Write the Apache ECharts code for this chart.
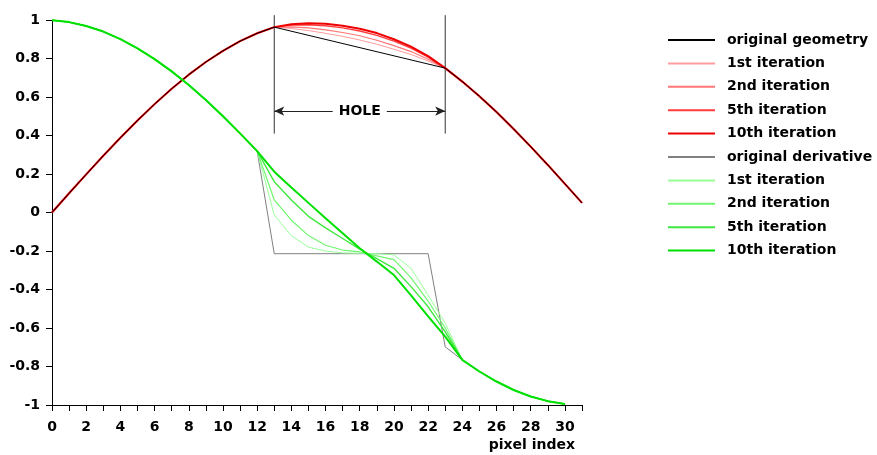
<!DOCTYPE html>
<html>
<head>
<meta charset="utf-8">
<script src="https://cdn.jsdelivr.net/npm/echarts@6/dist/echarts.min.js"></script>
<style>
html,body{margin:0;padding:0;background:#fff;}
#chart{width:877px;height:455px;}
</style>
</head>
<body>
<div id="chart"></div>
<script>
// pixel indices
const xFull = [0,1,2,3,4,5,6,7,8,9,10,11,12,13,14,15,16,17,18,19,20,21,22,23,24,25,26,27,28,29,30,31];
const xDeriv = [0,1,2,3,4,5,6,7,8,9,10,11,12,13,14,15,16,17,18,19,20,21,22,23,24,25,26,27,28,29,30];

// original geometry (straight line across the hole 13..23)
const geomX = [0,1,2,3,4,5,6,7,8,9,10,11,12,13,23,24,25,26,27,28,29,30,31];
const geomY = [0,0.100,0.198,0.295,0.388,0.478,0.563,0.643,0.716,0.782,0.840,0.890,0.931,0.963,0.750,0.680,0.604,0.522,0.434,0.342,0.247,0.149,0.050];

// geometry iterations (full range)
const red1  = [0,0.100,0.198,0.295,0.388,0.478,0.563,0.643,0.716,0.782,0.840,0.890,0.931,0.963,0.956,0.945,0.931,0.915,0.896,0.874,0.848,0.821,0.787,0.750,0.680,0.604,0.522,0.434,0.342,0.247,0.149,0.050];
const red2  = [0,0.100,0.198,0.295,0.388,0.478,0.563,0.643,0.716,0.782,0.840,0.890,0.931,0.963,0.964,0.959,0.949,0.935,0.918,0.895,0.867,0.836,0.796,0.750,0.680,0.604,0.522,0.434,0.342,0.247,0.149,0.050];
const red5  = [0,0.100,0.198,0.295,0.388,0.478,0.563,0.643,0.716,0.782,0.840,0.890,0.931,0.963,0.974,0.975,0.970,0.959,0.943,0.920,0.890,0.854,0.807,0.750,0.680,0.604,0.522,0.434,0.342,0.247,0.149,0.050];
const red10 = [0,0.100,0.198,0.295,0.388,0.478,0.563,0.643,0.716,0.782,0.840,0.890,0.931,0.963,0.978,0.983,0.980,0.970,0.955,0.932,0.900,0.862,0.812,0.750,0.680,0.604,0.522,0.434,0.342,0.247,0.149,0.050];

// original derivative (flat across the hole)
const derivX = [0,1,2,3,4,5,6,7,8,9,10,11,12,13,22,23,24,25,26,27,28,29,30];
const derivY = [0.999,0.989,0.969,0.940,0.901,0.853,0.797,0.733,0.662,0.584,0.500,0.411,0.319,-0.214,-0.214,-0.698,-0.766,-0.826,-0.878,-0.922,-0.956,-0.980,-0.995];

// derivative iterations
const grn1  = [0.999,0.989,0.969,0.940,0.901,0.853,0.797,0.733,0.662,0.584,0.500,0.411,0.319,-0.013,-0.120,-0.180,-0.200,-0.210,-0.212,-0.214,-0.220,-0.290,-0.430,-0.575,-0.766,-0.826,-0.878,-0.922,-0.956,-0.980,-0.995];
const grn2  = [0.999,0.989,0.969,0.940,0.901,0.853,0.797,0.733,0.662,0.584,0.500,0.411,0.319,0.065,-0.040,-0.120,-0.170,-0.195,-0.205,-0.225,-0.245,-0.340,-0.460,-0.600,-0.766,-0.826,-0.878,-0.922,-0.956,-0.980,-0.995];
const grn5  = [0.999,0.989,0.969,0.940,0.901,0.853,0.797,0.733,0.662,0.584,0.500,0.411,0.319,0.160,0.065,-0.020,-0.080,-0.135,-0.190,-0.240,-0.290,-0.385,-0.490,-0.620,-0.766,-0.826,-0.878,-0.922,-0.956,-0.980,-0.995];
const grn10 = [0.999,0.989,0.969,0.940,0.901,0.853,0.797,0.733,0.662,0.584,0.500,0.411,0.319,0.212,0.130,0.050,-0.030,-0.108,-0.186,-0.255,-0.325,-0.430,-0.540,-0.645,-0.766,-0.826,-0.878,-0.922,-0.956,-0.980,-0.995];

// hole annotation (hole borders and arrow level)
const holeStart = 13;
const holeEnd = 23;
const holeLineTop = 1.025;
const holeLineBottom = 0.41;
const holeArrowY = 0.527;

const legendLabels = {
  geom: 'original geometry', r1: '1st iteration', r2: '2nd iteration', r5: '5th iteration', r10: '10th iteration',
  deriv: 'original derivative', g1: '1st iteration', g2: '2nd iteration', g5: '5th iteration', g10: '10th iteration'
};
const yTicks = [-1,-0.8,-0.6,-0.4,-0.2,0,0.2,0.4,0.6,0.8,1];

function pairs(xs, ys){ return xs.map((x,i)=>[x, ys[i]]); }

const FONT = '"DejaVu Sans", "Liberation Sans", Arial, sans-serif';

function line(id, xs, ys, color, width){
  return {
    name: id, type: 'line', data: pairs(xs, ys), symbol: 'none', showSymbol: false,
    lineStyle: {color: color, width: width}, itemStyle: {color: color},
    clip: false, animation: false, emphasis: {disabled: true}, silent: true
  };
}

const borderL = line('holeL', [holeStart, holeStart], [holeLineTop, holeLineBottom], '#333333', 1);
const borderR = line('holeR', [holeEnd, holeEnd], [holeLineTop, holeLineBottom], '#333333', 1);

const geomSeries = line('geom', geomX, geomY, '#000000', 1);
geomSeries.markLine = {
  silent: true, animation: false,
  symbol: ['arrow','arrow'], symbolSize: [7, 10],
  lineStyle: {color: '#222222', width: 1, type: 'solid'},
  label: {
    show: true, position: 'insideMiddle', formatter: 'HOLE',
    color: '#000', fontFamily: FONT, fontWeight: 'bold', fontSize: 14,
    backgroundColor: '#fff', padding: [2, 6]
  },
  data: [
    [{coord: [holeStart, holeArrowY]}, {coord: [holeEnd, holeArrowY]}]
  ]
};

const option = {
  animation: false,
  backgroundColor: '#ffffff',
  grid: {left: 52, top: 20, width: 530, height: 385, containLabel: false},
  xAxis: {
    type: 'value', min: 0, max: 31, interval: 1,
    axisLine: {onZero: false, lineStyle: {color: '#000', width: 1}},
    axisTick: {length: 6, lineStyle: {color: '#000'}},
    splitLine: {show: false},
    axisLabel: {
      margin: 15, color: '#000', fontFamily: FONT, fontWeight: 'bold', fontSize: 14,
      formatter: v => (v % 2 === 0 ? String(v) : '')
    }
  },
  yAxis: {
    type: 'value', min: -1, max: 1, interval: 0.2,
    axisLine: {show: true, onZero: false, lineStyle: {color: '#000', width: 1}},
    axisTick: {show: true, length: 6, lineStyle: {color: '#000'}},
    splitLine: {show: false},
    axisLabel: {
      margin: 12, color: '#000', fontFamily: FONT, fontWeight: 'bold', fontSize: 14,
      formatter: v => { const t = yTicks.find(k => Math.abs(k - v) < 1e-6); return t === undefined ? '' : String(t); }
    }
  },
  legend: {
    orient: 'vertical', left: 667, top: 33, padding: 0,
    itemWidth: 47, itemHeight: 14, itemGap: 9.4,
    data: ['geom','r1','r2','r5','r10','deriv','g1','g2','g5','g10'],
    formatter: n => legendLabels[n],
    itemStyle: {opacity: 0},
    textStyle: {color: '#000', fontFamily: FONT, fontWeight: 'bold', fontSize: 14, padding: [0,0,0,7]},
    selectedMode: false
  },
  graphic: [{
    type: 'text', right: 302, top: 438,
    style: {text: 'pixel index', fill: '#000', font: 'bold 14px ' + FONT}
  }],
  series: [
    borderL, borderR,
    line('r1', xFull, red1, '#ff9c9c', 1),
    line('r2', xFull, red2, '#ff7676', 1.2),
    line('r5', xFull, red5, '#ff3c3c', 1.4),
    line('r10', xFull, red10, '#ee0000', 2),
    geomSeries,
    line('deriv', derivX, derivY, '#808080', 1),
    line('g1', xDeriv, grn1, '#99ff99', 1),
    line('g2', xDeriv, grn2, '#70f570', 1.2),
    line('g5', xDeriv, grn5, '#3ee83e', 1.4),
    line('g10', xDeriv, grn10, '#00e000', 2)
  ]
};

const chart = echarts.init(document.getElementById('chart'), null, {renderer: 'canvas'});
chart.setOption(option);
</script>
</body>
</html>
